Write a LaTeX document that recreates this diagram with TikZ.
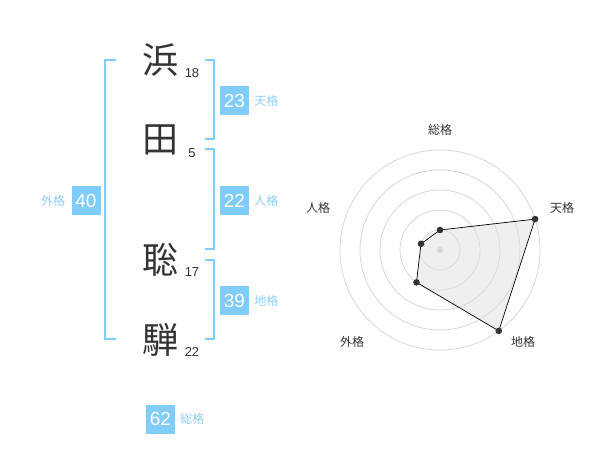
\documentclass[tikz,border=0pt]{standalone}
\usepackage{fontspec}
\setmainfont{Liberation Sans}
\newfontfamily\jpfont{Noto Sans CJK JP}
\usetikzlibrary{positioning}
\definecolor{kakublue}{RGB}{128,204,250}
\definecolor{labelblue}{RGB}{140,206,245}
\definecolor{inkgray}{RGB}{51,51,51}
\definecolor{ringgray}{RGB}{210,210,210}

\begin{document}
\begin{tikzpicture}[x=1pt,y=-1pt,
		kanji/.style={font=\jpfont\fontsize{36}{36}\selectfont, text=inkgray, inner sep=0pt},
		strokes/.style={font=\fontsize{13}{13}\selectfont, text=inkgray, inner sep=0pt},
		kakubox/.style={fill=kakublue, text=white, font=\fontsize{19}{19}\selectfont, minimum size=29pt, inner sep=0pt},
		kakulabel/.style={font=\jpfont\fontsize{12}{12}\selectfont, text=labelblue, inner sep=0pt},
		axislabel/.style={font=\jpfont\fontsize{12}{12}\selectfont, text=inkgray, inner sep=0pt},
		bracket/.style={kakublue, line width=2pt},
		ring/.style={ringgray, line width=0.7pt},
		dot/.style={fill=inkgray, draw=none}]
	\useasboundingbox (0,0) rectangle (600,470);
	% Name characters
	\node[kanji] (hama) at (160,60) {浜};
	\node[kanji] (ta) at (160,140) {田};
	\node[kanji] (sato) at (160,260) {聡};
	\node[kanji] (hida) at (160,340) {騨};
	% Stroke counts
	\node[strokes] (nhama) at (192,73) {18};
	\node[strokes] (nta) at (192,153) {5};
	\node[strokes] (nsato) at (192,272) {17};
	\node[strokes] (nhida) at (192,352) {22};
	% Brackets
	\draw[bracket] (115.7,60) -- (105,60) -- (105,339.3) -- (115.7,339.3);
	\draw[bracket] (205,60) -- (214.3,60) -- (214.3,139.3) -- (205,139.3);
	\draw[bracket] (205,149.3) -- (214.3,149.3) -- (214.3,249.3) -- (205,249.3);
	\draw[bracket] (205,260) -- (214.3,260) -- (214.3,339.3) -- (205,339.3);
	% Kaku boxes
	\node[kakubox] (tenbox) at (234.5,100.5) {23};
	\node[kakulabel, right=5pt of tenbox] (tenlabel) {天格};
	\node[kakubox] (jinbox) at (234.5,200.5) {22};
	\node[kakulabel, right=5pt of jinbox] (jinlabel) {人格};
	\node[kakubox] (chibox) at (234.5,300.5) {39};
	\node[kakulabel, right=5pt of chibox] (chilabel) {地格};
	\node[kakubox] (gaibox) at (86,200.5) {40};
	\node[kakulabel, left=6pt of gaibox] (gailabel) {外格};
	\node[kakubox] (soubox) at (160.5,419) {62};
	\node[kakulabel, right=5pt of soubox] (soulabel) {総格};
	% Radar chart
	\begin{scope}[shift={(440,250)}]
		\foreach \r in {20,40,60,80,100}
			\draw[ring] (0,0) circle[radius=\r];
		\fill[ringgray] (0,0) circle[radius=3];
		\coordinate (sou) at (-90:20);
		\coordinate (ten) at (-18:100);
		\coordinate (chi) at (54:100);
		\coordinate (gai) at (126:40);
		\coordinate (jin) at (198:20);
		\fill[gray!25, opacity=0.5] (sou) -- (ten) -- (chi) -- (gai) -- (jin) -- cycle;
		\draw[black, line width=0.7pt] (sou) -- (ten) -- (chi) -- (gai) -- (jin) -- cycle;
		\foreach \p in {sou,ten,chi,gai,jin}
			\fill[dot] (\p) circle[radius=3.3];
	\end{scope}
	% Axis labels
	\node[axislabel] (asou) at (440,130) {総格};
	\node[axislabel] (aten) at (562,208) {天格};
	\node[axislabel] (ajin) at (318,208) {人格};
	\node[axislabel] (agai) at (352,342) {外格};
	\node[axislabel] (achi) at (523,342) {地格};
\end{tikzpicture}
\end{document}
